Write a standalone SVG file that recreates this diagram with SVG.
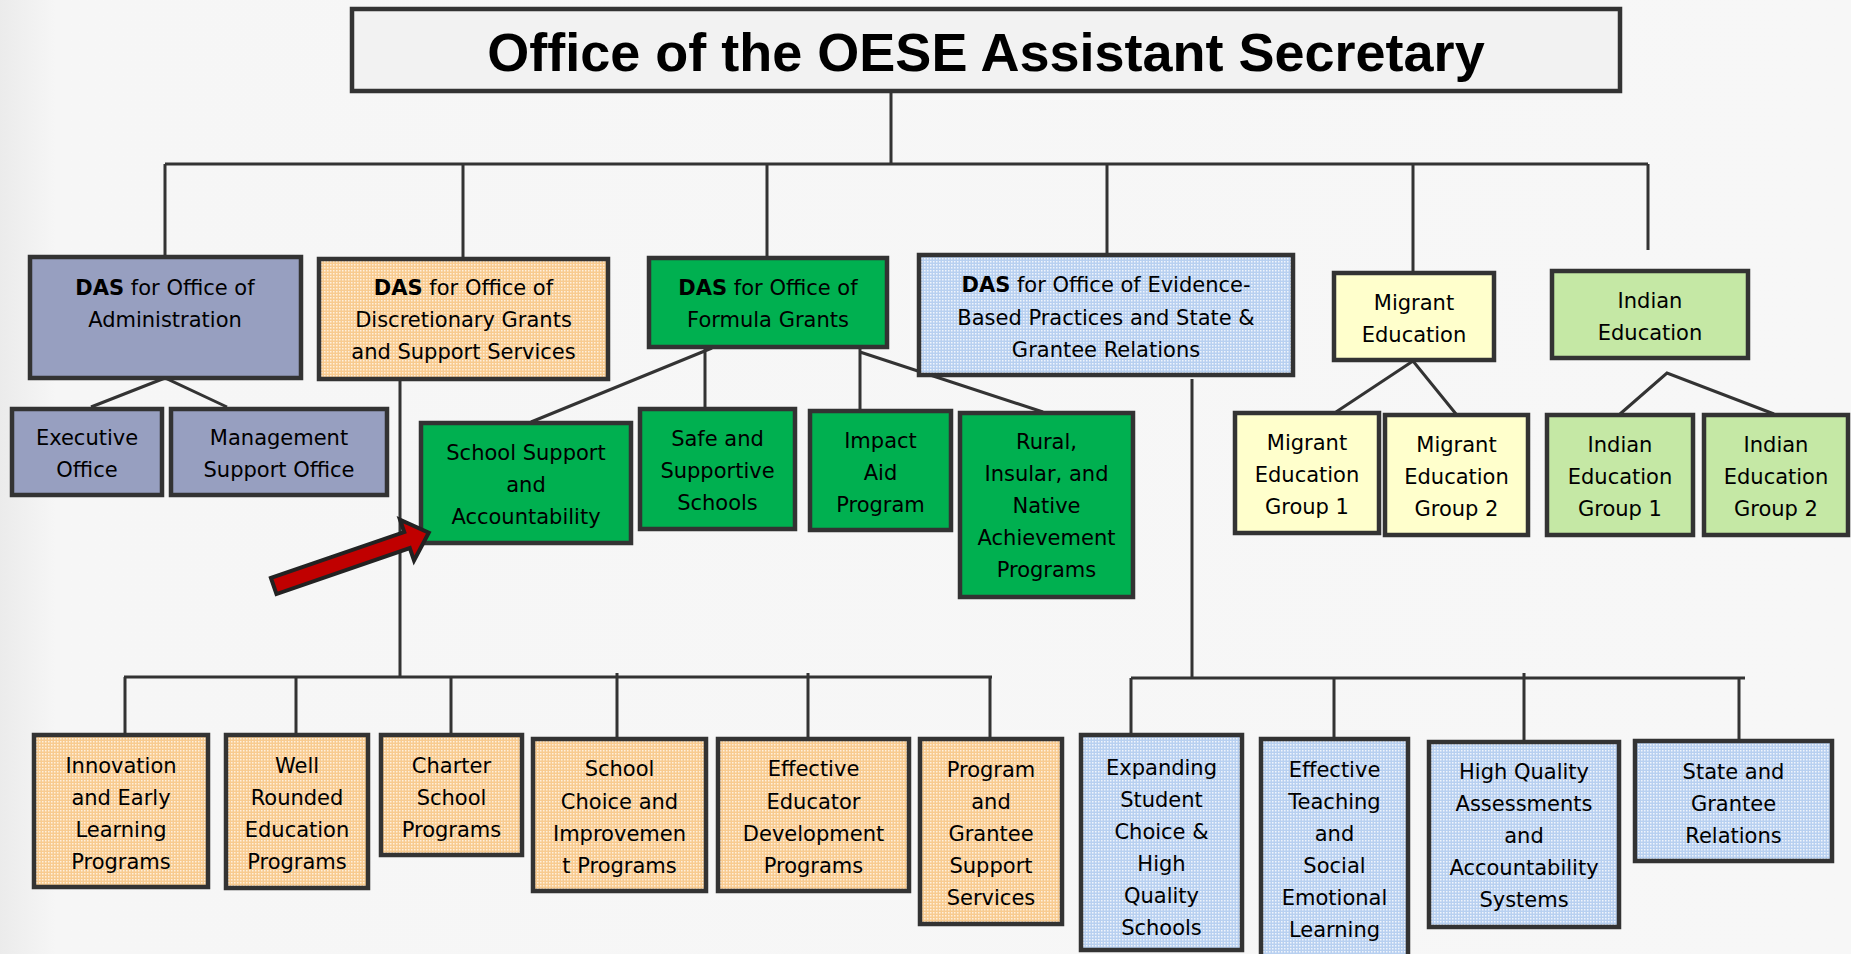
<svg xmlns="http://www.w3.org/2000/svg" width="1851" height="954" viewBox="0 0 1851 954">
<defs>
<pattern id="dotO" width="3" height="3" patternUnits="userSpaceOnUse"><rect width="3" height="3" fill="#f8cb90"/><rect width="1.5" height="1.5" fill="#fff0dc"/></pattern>
<pattern id="dotB" width="3" height="3" patternUnits="userSpaceOnUse"><rect width="3" height="3" fill="#b8d0f0"/><rect width="1.5" height="1.5" fill="#f0f5fc"/></pattern>
<linearGradient id="bg" x1="0" y1="0" x2="1" y2="0"><stop offset="0" stop-color="#ebebeb"/><stop offset="0.03" stop-color="#f6f6f6"/><stop offset="1" stop-color="#f7f7f7"/></linearGradient>
</defs>
<style>
.box{stroke:#333;stroke-width:4.5}
.adm{fill:#979fc0}
.org{fill:url(#dotO)}
.blu{fill:url(#dotB)}
.grn{fill:#00b050}
.yel{fill:#ffffcc}
.lgr{fill:#c5e8a5}
.t{font-family:"DejaVu Sans","Liberation Sans",sans-serif;font-size:21px;fill:#000;text-anchor:middle}
.b{font-weight:bold}
.ln{stroke:#333;stroke-width:3;fill:none}
</style>
<rect width="1851" height="954" fill="url(#bg)"/>

<g id="connectors" class="ln">
<path d="M891,92 V164 M165,164 H1648 M165,164 V257 M463,164 V259 M767,164 V258 M1107,164 V255 M1413,164 V273 M1648,164 V250"/>
<path d="M91,407 L165,378 L227,407"/>
<path d="M531,422 L712,348 M705,348 V409 M860,348 V411 M860,352 L1043,412"/>
<path d="M1336,412 L1413,361 L1456,414"/>
<path d="M1620,414 L1667,373 L1774,414"/>
<path d="M400,379 V677 M124,677 H992 M125,677 V735 M296,677 V735 M451,677 V735 M617,673 V739 M808,673 V739 M990,677 V739"/>
<path d="M1192,379 V678 M1131,678 H1745 M1131,678 V735 M1334,678 V739 M1524,673 V742 M1739,678 V741"/>
</g>

<g id="title">
<rect class="box" x="352" y="9" width="1268" height="82" fill="#f2f2f2"/>
<text x="986" y="71" font-family="'Liberation Sans',Arial,sans-serif" font-weight="bold" font-size="54" text-anchor="middle" fill="#000">Office of the OESE Assistant Secretary</text>
</g>

<g id="das-admin">
<rect class="box adm" x="30" y="257" width="271" height="121"/>
<text class="t" x="165" y="295"><tspan class="b">DAS</tspan> for Office of</text>
<text class="t" x="165" y="327">Administration</text>
</g>

<g id="das-discretionary">
<rect class="box org" x="319" y="259" width="289" height="120"/>
<text class="t" x="463.5" y="295"><tspan class="b">DAS</tspan> for Office of</text>
<text class="t" x="463.5" y="327">Discretionary Grants</text>
<text class="t" x="463.5" y="359">and Support Services</text>
</g>

<g id="das-formula">
<rect class="box grn" x="649" y="258" width="238" height="89"/>
<text class="t" x="768" y="295"><tspan class="b">DAS</tspan> for Office of</text>
<text class="t" x="768" y="327">Formula Grants</text>
</g>

<g id="das-evidence">
<rect class="box blu" x="919" y="255" width="374" height="120"/>
<text class="t" x="1106" y="292"><tspan class="b">DAS</tspan> for Office of Evidence-</text>
<text class="t" x="1106" y="325">Based Practices and State &amp;</text>
<text class="t" x="1106" y="357">Grantee Relations</text>
</g>

<g id="migrant">
<rect class="box yel" x="1334" y="273" width="160" height="87"/>
<text class="t" x="1414" y="310">Migrant</text>
<text class="t" x="1414" y="342">Education</text>
</g>

<g id="indian">
<rect class="box lgr" x="1552" y="271" width="196" height="87"/>
<text class="t" x="1650" y="308">Indian</text>
<text class="t" x="1650" y="340">Education</text>
</g>

<g id="executive-office">
<rect class="box adm" x="12" y="409" width="150" height="86"/>
<text class="t" x="87" y="445">Executive</text>
<text class="t" x="87" y="477">Office</text>
</g>

<g id="management-support">
<rect class="box adm" x="171" y="409" width="216" height="86"/>
<text class="t" x="279" y="445">Management</text>
<text class="t" x="279" y="477">Support Office</text>
</g>

<g id="school-support">
<rect class="box grn" x="421" y="423" width="210" height="120"/>
<text class="t" x="526" y="460">School Support</text>
<text class="t" x="526" y="492">and</text>
<text class="t" x="526" y="524">Accountability</text>
</g>

<g id="safe-supportive">
<rect class="box grn" x="640" y="409" width="155" height="120"/>
<text class="t" x="717.5" y="446">Safe and</text>
<text class="t" x="717.5" y="478">Supportive</text>
<text class="t" x="717.5" y="510">Schools</text>
</g>

<g id="impact-aid">
<rect class="box grn" x="810" y="411" width="141" height="119"/>
<text class="t" x="880.5" y="448">Impact</text>
<text class="t" x="880.5" y="480">Aid</text>
<text class="t" x="880.5" y="512">Program</text>
</g>

<g id="rural-insular">
<rect class="box grn" x="960" y="413" width="173" height="184"/>
<text class="t" x="1046.5" y="449">Rural,</text>
<text class="t" x="1046.5" y="481">Insular, and</text>
<text class="t" x="1046.5" y="513">Native</text>
<text class="t" x="1046.5" y="545">Achievement</text>
<text class="t" x="1046.5" y="577">Programs</text>
</g>

<g id="migrant-group-1">
<rect class="box yel" x="1235" y="413" width="144" height="120"/>
<text class="t" x="1307" y="450">Migrant</text>
<text class="t" x="1307" y="482">Education</text>
<text class="t" x="1307" y="514">Group 1</text>
</g>

<g id="migrant-group-2">
<rect class="box yel" x="1385" y="415" width="143" height="120"/>
<text class="t" x="1456.5" y="452">Migrant</text>
<text class="t" x="1456.5" y="484">Education</text>
<text class="t" x="1456.5" y="516">Group 2</text>
</g>

<g id="indian-group-1">
<rect class="box lgr" x="1547" y="415" width="146" height="120"/>
<text class="t" x="1620" y="452">Indian</text>
<text class="t" x="1620" y="484">Education</text>
<text class="t" x="1620" y="516">Group 1</text>
</g>

<g id="indian-group-2">
<rect class="box lgr" x="1704" y="415" width="144" height="120"/>
<text class="t" x="1776" y="452">Indian</text>
<text class="t" x="1776" y="484">Education</text>
<text class="t" x="1776" y="516">Group 2</text>
</g>

<g id="innovation">
<rect class="box org" x="34" y="735" width="174" height="152"/>
<text class="t" x="121" y="773">Innovation</text>
<text class="t" x="121" y="805">and Early</text>
<text class="t" x="121" y="837">Learning</text>
<text class="t" x="121" y="869">Programs</text>
</g>

<g id="well-rounded">
<rect class="box org" x="226" y="735" width="142" height="153"/>
<text class="t" x="297" y="773">Well</text>
<text class="t" x="297" y="805">Rounded</text>
<text class="t" x="297" y="837">Education</text>
<text class="t" x="297" y="869">Programs</text>
</g>

<g id="charter">
<rect class="box org" x="381" y="735" width="141" height="120"/>
<text class="t" x="451.5" y="773">Charter</text>
<text class="t" x="451.5" y="805">School</text>
<text class="t" x="451.5" y="837">Programs</text>
</g>

<g id="school-choice">
<rect class="box org" x="533" y="739" width="173" height="152"/>
<text class="t" x="619.5" y="776">School</text>
<text class="t" x="619.5" y="809">Choice and</text>
<text class="t" x="619.5" y="841">Improvemen</text>
<text class="t" x="619.5" y="873">t Programs</text>
</g>

<g id="effective-educator">
<rect class="box org" x="718" y="739" width="191" height="152"/>
<text class="t" x="813.5" y="776">Effective</text>
<text class="t" x="813.5" y="809">Educator</text>
<text class="t" x="813.5" y="841">Development</text>
<text class="t" x="813.5" y="873">Programs</text>
</g>

<g id="program-grantee">
<rect class="box org" x="920" y="739" width="142" height="185"/>
<text class="t" x="991" y="777">Program</text>
<text class="t" x="991" y="809">and</text>
<text class="t" x="991" y="841">Grantee</text>
<text class="t" x="991" y="873">Support</text>
<text class="t" x="991" y="905">Services</text>
</g>

<g id="expanding-choice">
<rect class="box blu" x="1081" y="735" width="161" height="215"/>
<text class="t" x="1161.5" y="775">Expanding</text>
<text class="t" x="1161.5" y="807">Student</text>
<text class="t" x="1161.5" y="839">Choice &amp;</text>
<text class="t" x="1161.5" y="871">High</text>
<text class="t" x="1161.5" y="903">Quality</text>
<text class="t" x="1161.5" y="935">Schools</text>
</g>

<g id="effective-teaching">
<rect class="box blu" x="1261" y="739" width="147" height="222"/>
<text class="t" x="1334.5" y="777">Effective</text>
<text class="t" x="1334.5" y="809">Teaching</text>
<text class="t" x="1334.5" y="841">and</text>
<text class="t" x="1334.5" y="873">Social</text>
<text class="t" x="1334.5" y="905">Emotional</text>
<text class="t" x="1334.5" y="937">Learning</text>
</g>

<g id="high-quality">
<rect class="box blu" x="1429" y="742" width="190" height="185"/>
<text class="t" x="1524" y="779">High Quality</text>
<text class="t" x="1524" y="811">Assessments</text>
<text class="t" x="1524" y="843">and</text>
<text class="t" x="1524" y="875">Accountability</text>
<text class="t" x="1524" y="907">Systems</text>
</g>

<g id="state-grantee">
<rect class="box blu" x="1635" y="741" width="197" height="120"/>
<text class="t" x="1733.5" y="779">State and</text>
<text class="t" x="1733.5" y="811">Grantee</text>
<text class="t" x="1733.5" y="843">Relations</text>
</g>

<g id="red-arrow" transform="translate(273.7,586) rotate(-19)">
<polygon points="0,-8.5 141,-8.5 141,-21.5 164,0 141,21.5 141,8.5 0,8.5" fill="#c00000" stroke="#222" stroke-width="4" stroke-linejoin="miter"/>
</g>
</svg>
